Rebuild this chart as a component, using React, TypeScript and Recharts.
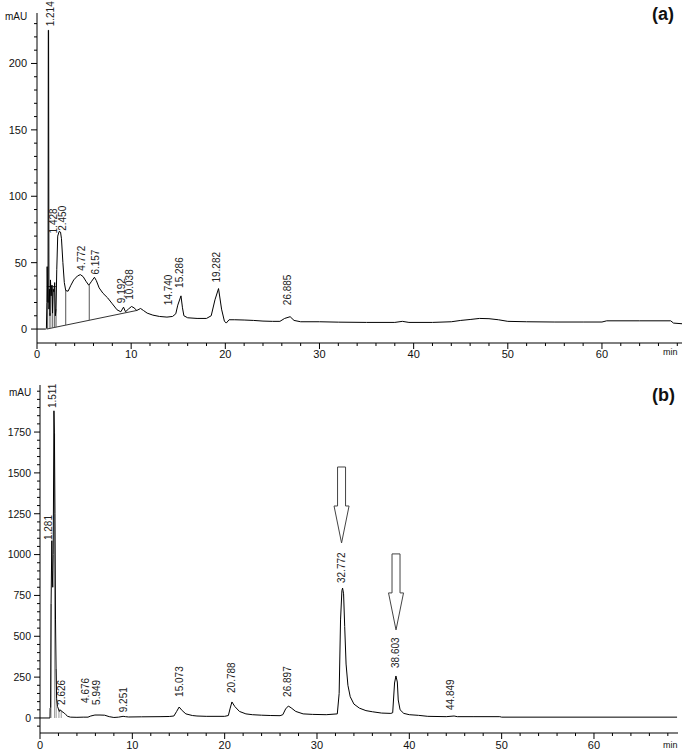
import React from 'react';
import { ComposedChart, Line, Scatter, XAxis, YAxis } from 'recharts';

const FONT = '"Liberation Sans", Arial, Helvetica, sans-serif';

// ---------- Chromatogram (a) ----------
const timeA = [0, 0.9, 1.0, 1.05, 1.08, 1.12, 1.17, 1.2, 1.23, 1.27, 1.32, 1.38, 1.43, 1.5, 1.58, 1.65, 1.72, 1.8, 1.88, 1.95, 2.02, 2.1, 2.2, 2.35, 2.5, 2.6, 2.75, 2.9, 3.05, 3.3, 3.6, 3.9, 4.3, 4.6, 4.9, 5.2, 5.5, 5.8, 6.1, 6.3, 6.6, 7.0, 7.5, 8.0, 8.5, 8.9, 9.19, 9.4, 9.7, 10.04, 10.3, 10.6, 11.0, 11.3, 11.7, 12.3, 13.0, 13.8, 14.4, 14.74, 14.95, 15.29, 15.45, 15.6, 16.0, 17.0, 18.0, 18.5, 18.9, 19.28, 19.6, 19.9, 20.1, 20.4, 21, 22, 23, 24, 25, 25.8, 26.3, 26.885, 27.3, 28, 30, 32, 35, 38, 38.8, 39.5, 42, 44, 45, 46, 47, 48, 49, 50, 52, 55, 58, 60, 60.5, 64, 67.3, 67.6, 68.5];
const signalA = [0, 0, 0.5, 20, 47, 30, 20, 225, 225, 15, 30, 10, 37, 25, 33, 12, 30, 28, 35, 10, 15, 45, 70, 73.5, 73, 68, 50, 35, 29, 28.5, 33, 37, 40, 41, 39.5, 36, 33, 36, 39, 36.5, 31, 27, 23.5, 19, 14.5, 13, 16.5, 13, 15, 17, 16, 14, 15.5, 14, 12, 10.5, 9.5, 9, 9.5, 11.5, 18, 25, 16, 10, 8.5, 8, 8, 10, 22, 30.5, 15, 6, 4.5, 7, 7, 6.8, 6.5, 6, 5.8, 5.8, 8, 9.3, 6.5, 5.5, 5.5, 5.2, 5, 5, 5.8, 5, 5, 5.5, 6.5, 7.2, 8, 7.8, 7, 5.8, 5.5, 5.3, 5.3, 5.3, 6.2, 6.2, 6.2, 4.5, 4];

const baseTimeA = [1.03, 10.6];
const baseValA = [0, 14];
const skimTimeA = [1.05, 2.0];
const skimValA = [32, 32];

const dropTimeA = [1.13, 1.38, 1.62, 1.84, 2.02, 3.05, 5.55];
const dropLowA = [0.1, 0.5, 0.9, 1.2, 1.4, 3.0, 6.6];
const dropHighA = [30, 12, 33, 32, 15, 29, 33];

const peakNamesA = ['1.214', '1.428', '2.450', '4.772', '6.157', '9.192', '10.038', '14.740', '15.286', '19.282', '26.885'];
const peakLabelTimeA = [1.4, 1.72, 2.75, 4.74, 6.16, 9.0, 9.8, 14.0, 15.1, 19.1, 26.6];
const peakLabelValA = [228, 72, 74, 44, 41, 19.5, 22, 18, 31, 35, 18];

// ---------- Chromatogram (b) ----------
const timeB = [0, 1.08, 1.1, 1.15, 1.2, 1.281, 1.33, 1.38, 1.43, 1.511, 1.56, 1.62, 1.68, 1.74, 1.8, 1.9, 2.0, 2.1, 2.2, 2.35, 2.5, 2.63, 2.8, 3.0, 3.3, 4.0, 4.676, 5.2, 5.5, 5.95, 6.5, 7.0, 7.5, 8.0, 8.5, 9.0, 9.25, 9.6, 11, 13, 14, 14.5, 14.8, 15.073, 15.4, 15.8, 16.5, 17, 18, 20, 20.4, 20.6, 20.788, 21.1, 21.6, 22.3, 23, 24, 25, 26, 26.3, 26.6, 26.897, 27.2, 27.7, 28.5, 29.5, 31, 32.2, 32.4, 32.55, 32.7, 32.772, 32.88, 33.0, 33.15, 33.35, 33.6, 34.0, 34.6, 35.3, 36.0, 37.0, 38.0, 38.2, 38.4, 38.55, 38.7, 38.8, 39.0, 39.4, 40, 41, 42, 44, 44.849, 45.2, 47, 49.8, 50.0, 69];
const signalB = [0, 0, 60, 65, 700, 1085, 900, 800, 1000, 1880, 1750, 1250, 600, 300, 120, 70, 55, 40, 50, 40, 35, 30, 20, 10, 5, 4, 5, 5, 12, 18, 18, 17, 8, 3, 5, 10, 8, 6, 7, 8, 9, 12, 40, 67, 45, 25, 15, 12, 10, 10, 15, 60, 98, 70, 40, 25, 20, 17, 15, 14, 20, 55, 73, 62, 40, 25, 22, 20, 25, 150, 600, 780, 795, 760, 560, 330, 200, 130, 85, 60, 45, 38, 30, 28, 32, 214, 257, 220, 110, 50, 28, 20, 16, 10, 8, 12, 8, 8, 8, 5, 5];

const dropTimeB = [1.2, 1.58, 1.75, 2.05, 2.3];
const dropLowB = [0, 0, 0, 0, 0];
const dropHighB = [700, 1740, 300, 55, 45];

const peakNamesB = ['1.281', '1.511', '2.626', '4.676', '5.949', '9.251', '15.073', '20.788', '26.897', '32.772', '38.603', '44.849'];
const peakLabelTimeB = [0.9, 1.33, 2.36, 4.88, 6.14, 9.0, 15.06, 20.7, 26.76, 32.7, 38.54, 44.5];
const peakLabelValB = [1089, 1897, 80, 92, 80, 35, 129, 153, 129, 826, 306, 49];

const arrowTimeB = [32.66, 38.56];
const arrowTipValB = [1071, 539];

// ---------- Axes ----------
const range = (a: number, b: number, s: number) => {
  const out: number[] = [];
  for (let v = a; v <= b + 1e-9; v += s) out.push(Math.round(v * 1000) / 1000);
  return out;
};
const xTicks = range(0, 68, 2);
const xLabels = [0, 10, 20, 30, 40, 50, 60];
const yTicksA = range(0, 230, 10);
const yLabelsA = [0, 50, 100, 150, 200];
const yTicksB = range(-50, 2000, 50);
const yLabelsB = [0, 250, 500, 750, 1000, 1250, 1500, 1750];

// ---------- build tables ----------
const zip = (ts: number[], vs: number[]) => ts.map((t, i) => ({ t, v: vs[i] }));
const drops = (ts: number[], lo: number[], hi: number[]) => {
  const out: { t: number; v: number | null }[] = [];
  ts.forEach((t, i) => {
    out.push({ t, v: lo[i] });
    out.push({ t, v: hi[i] });
    out.push({ t, v: null });
  });
  return out;
};
const labelsOf = (names: string[], ts: number[], vs: number[]) =>
  names.map((label, i) => ({ t: ts[i], y: vs[i], label }));

const traceA = zip(timeA, signalA);
const baseA = zip(baseTimeA, baseValA);
const skimA = zip(skimTimeA, skimValA);
const dropA = drops(dropTimeA, dropLowA, dropHighA);
const labelsA = labelsOf(peakNamesA, peakLabelTimeA, peakLabelValA);

const traceB = zip(timeB, signalB);
const dropB = drops(dropTimeB, dropLowB, dropHighB);
const labelsB = labelsOf(peakNamesB, peakLabelTimeB, peakLabelValB);
const arrowsB = arrowTimeB.map((t, i) => ({ t, y: arrowTipValB[i] }));

// ---------- custom renderers ----------
const makeXTick = (labelDy: number) => (props: any) => {
  const { x, y, payload } = props;
  const v = payload.value;
  const major = xLabels.includes(v);
  return (
    <g>
      <line x1={x} y1={y} x2={x} y2={y + (major ? 6 : 3)} stroke="#000" strokeWidth={1} />
      {major && (
        <text x={x} y={y + labelDy} textAnchor="middle" fontSize={11} fontFamily={FONT} fill="#111">
          {v}
        </text>
      )}
    </g>
  );
};

const makeYTick = (labels: number[], gap: number, fs: number) => (props: any) => {
  const { x, y, payload } = props;
  const v = payload.value;
  const major = labels.includes(v);
  return (
    <g>
      <line x1={x - (major ? 6 : 3)} y1={y} x2={x} y2={y} stroke="#000" strokeWidth={1} />
      {major && (
        <text x={x - gap} y={y} dy="0.36em" textAnchor="end" fontSize={fs} fontFamily={FONT} fill="#111">
          {v}
        </text>
      )}
    </g>
  );
};

const PeakLabel = (props: any) => {
  const { cx, cy } = props;
  const label = props.payload?.label ?? props.label;
  if (cx == null || cy == null) return null;
  return (
    <text
      transform={`translate(${cx},${cy}) rotate(-90)`}
      textAnchor="start"
      dominantBaseline="central"
      fontSize={10}
      fontFamily={FONT}
      fill="#222"
    >
      {label}
    </text>
  );
};

const ArrowShape = (props: any) => {
  const { cx, cy } = props;
  if (cx == null || cy == null) return null;
  const sw = 4;
  const hw = 7.5;
  const shaft = 39;
  const head = 37;
  const top = cy - shaft - head;
  const d = `M${cx - sw},${top} L${cx + sw},${top} L${cx + sw},${cy - head} L${cx + hw},${cy - head} L${cx},${cy} L${cx - hw},${cy - head} L${cx - sw},${cy - head} Z`;
  return <path d={d} fill="#fff" stroke="#444" strokeWidth={1} />;
};

const textStyle = (extra: React.CSSProperties): React.CSSProperties => ({
  position: 'absolute',
  fontFamily: FONT,
  color: '#111',
  lineHeight: 1,
  whiteSpace: 'nowrap',
  ...extra,
});

export default function App() {
  return (
    <div style={{ position: 'absolute', left: 0, top: 0, width: 685, height: 753, background: '#fff', overflow: 'hidden' }}>
      {/* ---- (a) ---- */}
      <div style={{ position: 'absolute', left: 0, top: 0 }}>
        <ComposedChart width={685} height={370} margin={{ top: 13, right: 3, bottom: 0, left: 0 }} style={{ overflow: 'visible' }}>
          <XAxis
            type="number"
            dataKey="t"
            domain={[0, 68.5]}
            ticks={xTicks}
            interval={0}
            tickSize={0}
            tickMargin={0}
            tickLine={false}
            height={27}
            axisLine={{ stroke: '#000', strokeWidth: 1 }}
            tick={makeXTick(15)}
          />
          <YAxis
            type="number"
            domain={[-10.5, 238]}
            ticks={yTicksA}
            interval={0}
            tickSize={0}
            tickMargin={0}
            tickLine={false}
            width={37}
            axisLine={{ stroke: '#000', strokeWidth: 1 }}
            tick={makeYTick(yLabelsA, 10, 11)}
          />
          <Line data={baseA} dataKey="v" stroke="#333" strokeWidth={1} dot={false} activeDot={false} isAnimationActive={false} />
          <Line data={skimA} dataKey="v" stroke="#333" strokeWidth={1} dot={false} activeDot={false} isAnimationActive={false} />
          <Line data={dropA} dataKey="v" stroke="#555" strokeWidth={1} dot={false} activeDot={false} connectNulls={false} isAnimationActive={false} />
          <Line data={traceA} dataKey="v" stroke="#000" strokeWidth={1} dot={false} activeDot={false} isAnimationActive={false} />
          <Scatter data={labelsA} dataKey="y" shape={PeakLabel} isAnimationActive={false} />
        </ComposedChart>
      </div>
      <div style={textStyle({ left: 5, top: 12, fontSize: 10 })}>mAU</div>
      <div style={textStyle({ left: 663, top: 348, fontSize: 9 })}>min</div>
      <div style={textStyle({ left: 652, top: 5, fontSize: 18, fontWeight: 'bold' })}>(a)</div>

      {/* ---- (b) ---- */}
      <div style={{ position: 'absolute', left: 0, top: 375 }}>
        <ComposedChart width={685} height={378} margin={{ top: 10, right: 7, bottom: 0, left: 0 }} style={{ overflow: 'visible' }}>
          <XAxis
            type="number"
            dataKey="t"
            domain={[0, 69.1]}
            ticks={xTicks}
            interval={0}
            tickSize={0}
            tickMargin={0}
            tickLine={false}
            height={20}
            axisLine={{ stroke: '#000', strokeWidth: 1 }}
            tick={makeXTick(16)}
          />
          <YAxis
            type="number"
            domain={[-92, 2038]}
            ticks={yTicksB}
            interval={0}
            tickSize={0}
            tickMargin={0}
            tickLine={false}
            width={40}
            axisLine={{ stroke: '#000', strokeWidth: 1 }}
            tick={makeYTick(yLabelsB, 9, 10.5)}
          />
          <Line data={dropB} dataKey="v" stroke="#999" strokeWidth={1} dot={false} activeDot={false} connectNulls={false} isAnimationActive={false} />
          <Line data={traceB} dataKey="v" stroke="#000" strokeWidth={1} dot={false} activeDot={false} isAnimationActive={false} />
          <Scatter data={labelsB} dataKey="y" shape={PeakLabel} isAnimationActive={false} />
          <Scatter data={arrowsB} dataKey="y" shape={ArrowShape} isAnimationActive={false} />
        </ComposedChart>
      </div>
      <div style={textStyle({ left: 9, top: 388, fontSize: 10 })}>mAU</div>
      <div style={textStyle({ left: 663, top: 741, fontSize: 9 })}>min</div>
      <div style={textStyle({ left: 652, top: 386, fontSize: 18, fontWeight: 'bold' })}>(b)</div>
    </div>
  );
}
